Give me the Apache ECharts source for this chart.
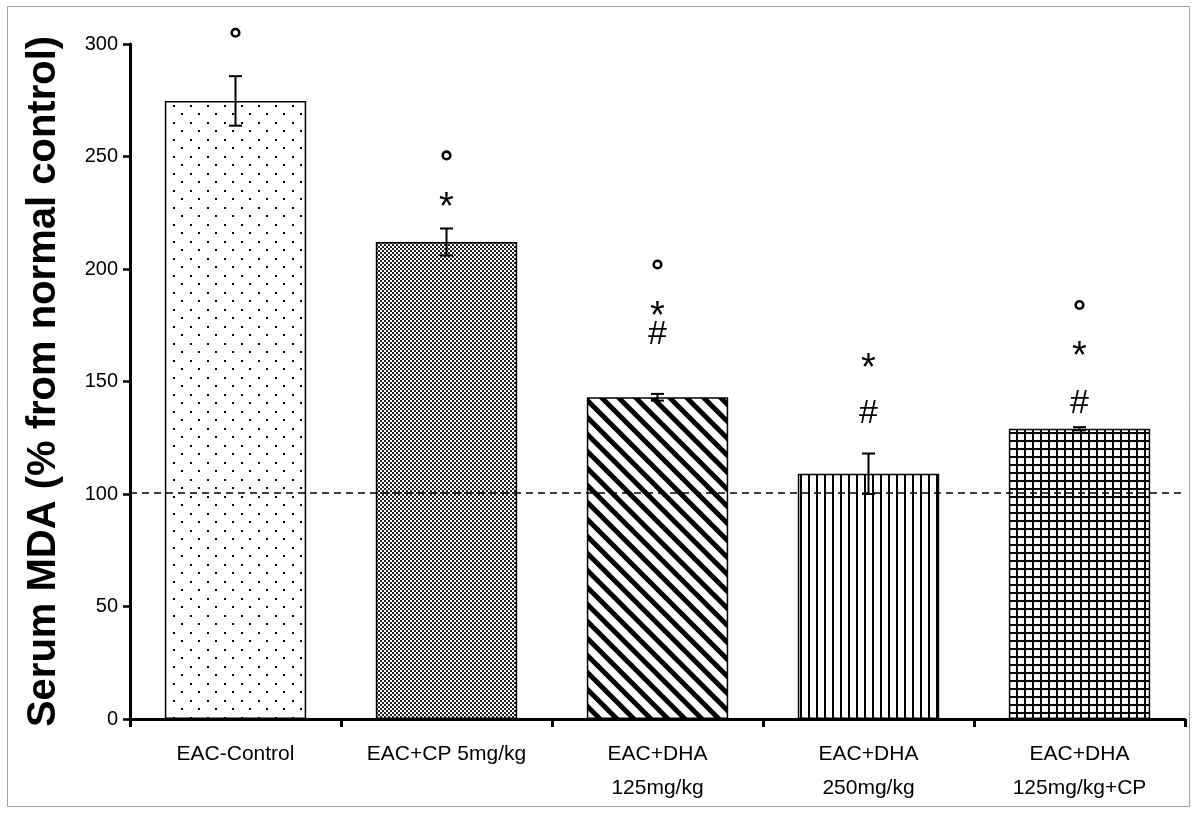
<!DOCTYPE html>
<html>
<head>
<meta charset="utf-8">
<script src="https://cdn.jsdelivr.net/npm/echarts@6/dist/echarts.min.js"></script>
<style>
html,body{margin:0;padding:0;background:#fff;}
#chart{width:1200px;height:817px;}
</style>
</head>
<body>
<div id="chart"></div>
<script>
// ---- data ----
const categories = ['EAC-Control', 'EAC+CP 5mg/kg', 'EAC+DHA\n125mg/kg', 'EAC+DHA\n250mg/kg', 'EAC+DHA\n125mg/kg+CP'];
const means = [274.7, 212, 143, 109, 129];
const errors = [11, 6, 1.5, 9, 0.7];
const circleMarks = [305, 250.5, 202, null, 184];
const starMarks = [null, 230.5, 182, 159, 164];
const hashMarks = [null, null, 171.5, 136, 140.5];
const normalLevel = 100.5;
const yTicks = {min: 0, max: 300, interval: 50};

// ---- patterns ----
function makeTile(w, h, draw) {
  const c = document.createElement('canvas');
  c.width = w; c.height = h;
  const ctx = c.getContext('2d');
  ctx.fillStyle = '#fff';
  ctx.fillRect(0, 0, w, h);
  draw(ctx, w, h);
  return {image: c, repeat: 'repeat'};
}
const patterns = [
  makeTile(17, 17, (ctx) => { ctx.fillStyle = '#000'; ctx.fillRect(3, 3, 2, 2); ctx.fillRect(11, 11, 2, 2); }),
  makeTile(4, 4, (ctx) => { ctx.fillStyle = '#222'; ctx.fillRect(0, 0, 2, 2); ctx.fillRect(2, 2, 2, 2); }),
  makeTile(17, 17, (ctx) => {
    ctx.strokeStyle = '#000'; ctx.lineWidth = 5;
    for (let k = -1; k <= 1; k++) {
      ctx.beginPath(); ctx.moveTo(k * 17 - 2, -2); ctx.lineTo(k * 17 + 19, 19); ctx.stroke();
    }
  }),
  makeTile(8, 8, (ctx) => { ctx.fillStyle = '#000'; ctx.fillRect(0, 0, 2, 8); }),
  makeTile(8, 8, (ctx) => { ctx.fillStyle = '#000'; ctx.fillRect(0, 0, 2, 8); ctx.fillRect(0, 0, 8, 2); })
];

const barData = means.map((v, i) => ({
  value: v,
  itemStyle: {color: patterns[i], borderColor: '#000', borderWidth: 1.5}
}));

function marksData(arr) {
  const out = [];
  arr.forEach((v, i) => { if (v !== null) out.push([i, v]); });
  return out;
}

const chart = echarts.init(document.getElementById('chart'), null, {renderer: 'canvas'});
const option = {
  animation: false,
  backgroundColor: '#fff',
  grid: {left: 130, right: 15, top: 44, bottom: 98, containLabel: false},
  graphic: [{
    type: 'rect', shape: {x: 7.5, y: 6.5, width: 1182, height: 800},
    style: {fill: 'none', stroke: '#a0a0a0', lineWidth: 1}, silent: true, z: -10
  }],
  xAxis: {
    type: 'category',
    data: categories,
    axisLine: {lineStyle: {color: '#000', width: 3}},
    axisTick: {show: true, length: 8, lineStyle: {color: '#000', width: 3}},
    axisLabel: {color: '#000', fontFamily: 'Liberation Sans, Arial, sans-serif', fontSize: 21, lineHeight: 34, margin: 18, interval: 0}
  },
  yAxis: {
    type: 'value',
    min: yTicks.min, max: yTicks.max, interval: yTicks.interval,
    name: 'Serum MDA (% from normal control)',
    nameLocation: 'middle',
    nameGap: 66,
    nameRotate: 90,
    nameTextStyle: {color: '#000', fontFamily: 'Liberation Sans, Arial, sans-serif', fontWeight: 'bold', fontSize: 40},
    axisLine: {show: true, lineStyle: {color: '#000', width: 3}},
    axisTick: {show: true, length: 7, lineStyle: {color: '#000', width: 2.5}},
    axisLabel: {color: '#000', fontFamily: 'Liberation Sans, Arial, sans-serif', fontSize: 20, margin: 12},
    splitLine: {show: false}
  },
  series: [
    {
      type: 'bar',
      data: barData,
      barWidth: '67%',
      markLine: {
        silent: true, symbol: 'none',
        label: {show: false},
        lineStyle: {color: '#000', type: [7, 5], width: 1.5},
        data: [{yAxis: normalLevel}]
      }
    },
    {
      type: 'custom',
      data: means.map((m, i) => [i, m - errors[i], m + errors[i]]),
      z: 5,
      renderItem: function (params, api) {
        const lo = api.coord([api.value(0), api.value(1)]);
        const hi = api.coord([api.value(0), api.value(2)]);
        const hw = 6.5;
        const st = {stroke: '#000', lineWidth: 2};
        return {type: 'group', children: [
          {type: 'line', shape: {x1: lo[0], y1: lo[1], x2: hi[0], y2: hi[1]}, style: st},
          {type: 'line', shape: {x1: lo[0] - hw, y1: lo[1], x2: lo[0] + hw, y2: lo[1]}, style: st},
          {type: 'line', shape: {x1: hi[0] - hw, y1: hi[1], x2: hi[0] + hw, y2: hi[1]}, style: st}
        ]};
      }
    },
    {
      type: 'custom',
      data: marksData(circleMarks),
      renderItem: function (params, api) {
        const p = api.coord([api.value(0), api.value(1)]);
        return {type: 'circle', shape: {cx: p[0], cy: p[1], r: 3.8}, style: {fill: 'none', stroke: '#000', lineWidth: 2.6}};
      }
    },
    {
      type: 'custom',
      data: marksData(starMarks),
      renderItem: function (params, api) {
        const p = api.coord([api.value(0), api.value(1)]);
        return {type: 'text', x: p[0], y: p[1] + 8, style: {text: '*', font: '38px "Liberation Sans", Arial, sans-serif', fill: '#000', align: 'center', verticalAlign: 'middle'}};
      }
    },
    {
      type: 'custom',
      data: marksData(hashMarks),
      renderItem: function (params, api) {
        const p = api.coord([api.value(0), api.value(1)]);
        return {type: 'text', x: p[0], y: p[1] + 1, style: {text: '#', font: '34px "Liberation Sans", Arial, sans-serif', fill: '#000', align: 'center', verticalAlign: 'middle'}};
      }
    }
  ]
};
chart.setOption(option);
</script>
</body>
</html>
